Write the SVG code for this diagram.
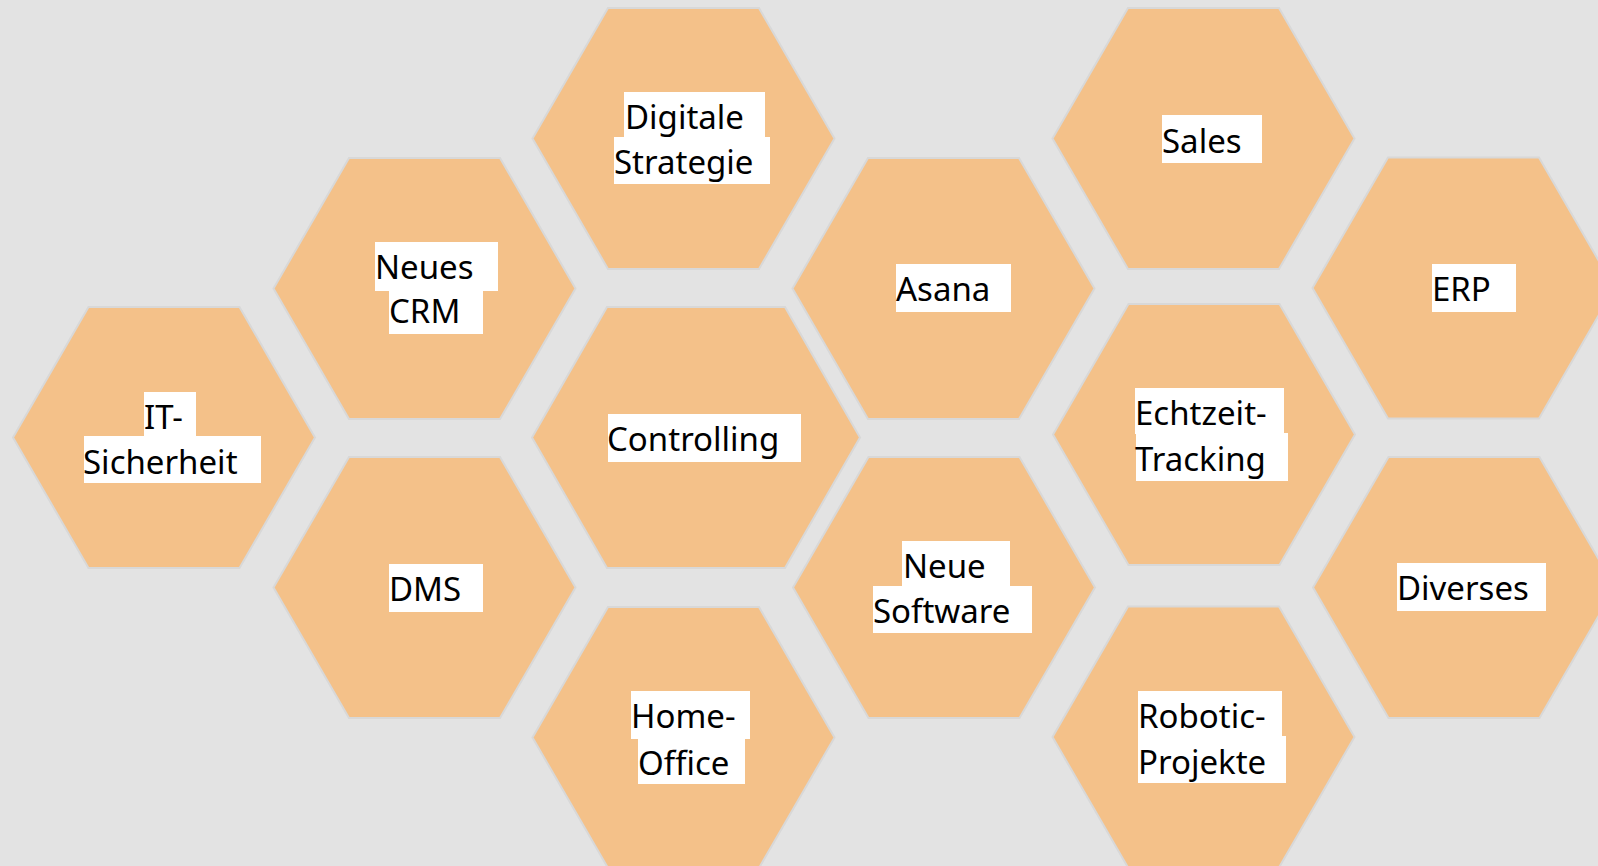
<svg xmlns="http://www.w3.org/2000/svg" width="1598" height="866" viewBox="0 0 1598 866">
<style>
.hex{fill:#F4C189;stroke:#D8D8D8;stroke-width:2}
.bg{fill:#FFFFFF}
.t{font-family:"Noto Sans","Open Sans","Liberation Sans",sans-serif;font-size:33px;fill:#000000}
</style>
<rect x="0" y="0" width="1598" height="866" fill="#E3E3E3"/>
<g id="connectors"></g>
<g id="it-sicherheit">
<polygon class="hex" points="13,437.5 88.5,307 239.5,307 315,437.5 239.5,568 88.5,568"/>
<rect class="bg" x="144" y="392" width="52" height="45"/><rect class="bg" x="84" y="436" width="177" height="47"/>
<text class="t" x="144" y="429">IT-</text><text class="t" x="83" y="474">Sicherheit</text>
</g>
<g id="digitale-strategie">
<polygon class="hex" points="532.5,138.5 608,8 759,8 834.5,138.5 759,269 608,269"/>
<rect class="bg" x="624" y="92" width="141" height="46"/><rect class="bg" x="614" y="137" width="156" height="47"/>
<text class="t" x="625" y="129">Digitale</text><text class="t" x="614" y="174">Strategie</text>
</g>
<g id="neues-crm">
<polygon class="hex" points="273.5,288.5 349,158 500,158 575.5,288.5 500,419 349,419"/>
<rect class="bg" x="375" y="242" width="123" height="49"/><rect class="bg" x="389" y="290" width="94" height="44"/>
<text class="t" x="375" y="279">Neues</text><text class="t" x="389" y="323">CRM</text>
</g>
<g id="dms">
<polygon class="hex" points="273.5,587.5 349,457 500,457 575.5,587.5 500,718 349,718"/>
<rect class="bg" x="389" y="564" width="94" height="48"/>
<text class="t" x="389" y="601">DMS</text>
</g>
<g id="controlling">
<polygon class="hex" points="532,437.5 607,307 785,307 860,437.5 785,568 607,568"/>
<rect class="bg" x="608" y="414" width="193" height="48"/>
<text class="t" x="607" y="451">Controlling</text>
</g>
<g id="home-office">
<polygon class="hex" points="532.5,737.5 608,607 759,607 834.5,737.5 759,868 608,868"/>
<rect class="bg" x="631" y="691" width="119" height="48"/><rect class="bg" x="638" y="738" width="107" height="46"/>
<text class="t" x="631" y="728">Home-</text><text class="t" x="638" y="775">Office</text>
</g>
<g id="asana">
<polygon class="hex" points="792.5,288.5 868,158 1019,158 1094.5,288.5 1019,419 868,419"/>
<rect class="bg" x="896" y="264" width="115" height="48"/>
<text class="t" x="896" y="301">Asana</text>
</g>
<g id="neue-software">
<polygon class="hex" points="793,587.5 868.5,457 1019.5,457 1095,587.5 1019.5,718 868.5,718"/>
<rect class="bg" x="902" y="541" width="108" height="46"/><rect class="bg" x="873" y="586" width="159" height="47"/>
<text class="t" x="903" y="578">Neue</text><text class="t" x="873" y="623">Software</text>
</g>
<g id="sales">
<polygon class="hex" points="1052.5,138.5 1128,8 1279,8 1354.5,138.5 1279,269 1128,269"/>
<rect class="bg" x="1162" y="115" width="100" height="48"/>
<text class="t" x="1162" y="153">Sales</text>
</g>
<g id="echtzeit-tracking">
<polygon class="hex" points="1053,434.5 1128.5,304 1279.5,304 1355,434.5 1279.5,565 1128.5,565"/>
<rect class="bg" x="1135" y="388" width="149" height="46"/><rect class="bg" x="1136" y="433" width="152" height="48"/>
<text class="t" x="1135" y="425">Echtzeit-</text><text class="t" x="1135" y="471">Tracking</text>
</g>
<g id="robotic-projekte">
<polygon class="hex" points="1052.5,737 1128,606.5 1279,606.5 1354.5,737 1279,867.5 1128,867.5"/>
<rect class="bg" x="1138" y="691" width="144" height="46"/><rect class="bg" x="1138" y="736" width="148" height="47"/>
<text class="t" x="1138" y="728">Robotic-</text><text class="t" x="1138" y="774">Projekte</text>
</g>
<g id="erp">
<polygon class="hex" points="1312.5,288 1388,157.5 1539,157.5 1614.5,288 1539,418.5 1388,418.5"/>
<rect class="bg" x="1432" y="264" width="84" height="48"/>
<text class="t" x="1432" y="301">ERP</text>
</g>
<g id="diverses">
<polygon class="hex" points="1313,587.5 1388.5,457 1539.5,457 1615,587.5 1539.5,718 1388.5,718"/>
<rect class="bg" x="1397" y="563" width="149" height="48"/>
<text class="t" x="1397" y="600">Diverses</text>
</g>
</svg>
